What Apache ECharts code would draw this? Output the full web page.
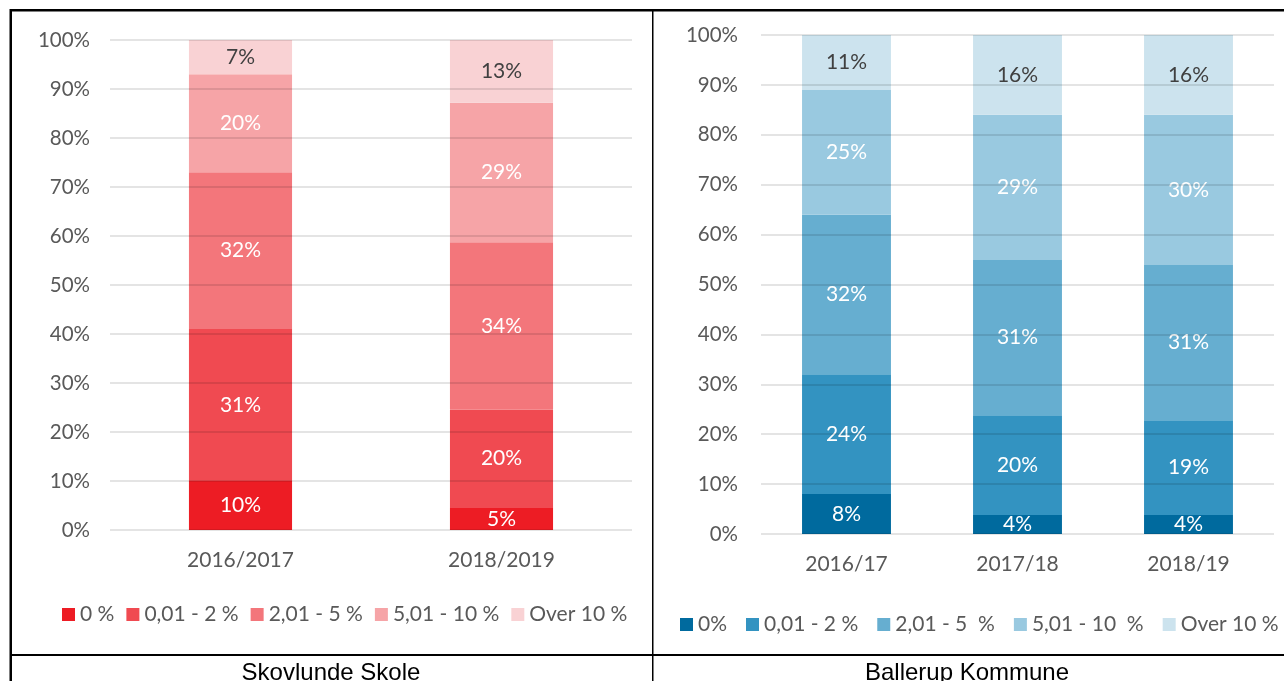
<!DOCTYPE html>
<html>
<head>
<meta charset="utf-8">
<script src="https://cdn.jsdelivr.net/npm/echarts@6/dist/echarts.min.js"></script>
<style>
html,body{margin:0;padding:0;background:#fff;}
#wrap{position:relative;width:1284px;height:681px;overflow:hidden;}
#left{position:absolute;left:0;top:0;width:652px;height:681px;}
#right{position:absolute;left:652px;top:0;width:632px;height:681px;}
</style>
</head>
<body>
<div id="wrap"><div id="left"></div><div id="right"></div></div>
<script>
// ---- Data: left panel (Skovlunde Skole) ----
const leftTitle = 'Skovlunde Skole';
const leftCategories = ['2016/2017', '2018/2019'];
const leftNames = ['0 %', '0,01 - 2 %', '2,01 - 5 %', '5,01 - 10 %', 'Over 10 %'];
const leftS0 = [10, 4.5];
const leftS1 = [31, 20.1];
const leftS2 = [32, 34.1];
const leftS3 = [20, 28.5];
const leftS4 = [7, 12.8];
const leftColors = ['#ED1C24', '#F04A51', '#F3767B', '#F6A4A7', '#F9D2D4'];

// ---- Data: right panel (Ballerup Kommune) ----
const rightTitle = 'Ballerup Kommune';
const rightCategories = ['2016/17', '2017/18', '2018/19'];
const rightNames = ['0%', '0,01 - 2 %', '2,01 - 5  %', '5,01 - 10  %', 'Over 10 %'];
const rightS0 = [8, 3.8, 3.8];
const rightS1 = [24, 20, 19];
const rightS2 = [32, 31.1, 31.1];
const rightS3 = [25, 29.1, 30.1];
const rightS4 = [11, 16, 16];
const rightColors = ['#006A9E', '#3393C1', '#66AED0', '#99C9E0', '#CCE3EE'];

const yTicks = {min: 0, max: 100, interval: 10};
const FONT = 'Lato';

function makeSeries(names, data, colors, barWidth) {
  return names.map((n, i) => ({
    name: n,
    type: 'bar',
    stack: 'total',
    barWidth: barWidth,
    data: data[i],
    itemStyle: {color: colors[i]},
    label: {
      show: true,
      position: 'inside',
      formatter: p => Math.round(p.value) + '%',
      color: i === names.length - 1 ? '#404040' : '#ffffff',
      fontSize: 21,
      fontFamily: FONT
    }
  }));
}

function makeOption(cfg) {
  return {
    animation: false,
    textStyle: {fontFamily: FONT},
    grid: cfg.grid,
    legend: {
      data: cfg.names,
      left: cfg.legendLeft,
      top: cfg.legendTop,
      width: cfg.legendWidth,
      icon: 'rect',
      itemWidth: 13,
      itemHeight: 13,
      itemGap: cfg.legendGap,
      textStyle: {fontSize: 21, color: '#595959', fontFamily: FONT}
    },
    xAxis: {
      type: 'category',
      data: cfg.categories,
      axisLine: {show: false},
      axisTick: {show: false},
      axisLabel: {fontSize: 21, color: '#595959', fontFamily: FONT, margin: cfg.xMargin}
    },
    yAxis: {
      type: 'value',
      min: yTicks.min, max: yTicks.max, interval: yTicks.interval,
      z: 3,
      axisLine: {show: false},
      axisTick: {show: false},
      axisLabel: {fontSize: 20.5, color: '#595959', fontFamily: FONT, margin: cfg.yMargin, formatter: '{value}%'},
      splitLine: {lineStyle: {color: 'rgba(0,0,0,0.14)', width: 1.5}}
    },
    series: makeSeries(cfg.names, cfg.data, cfg.colors, cfg.barWidth),
    graphic: cfg.graphic
  };
}

const leftChart = echarts.init(document.getElementById('left'), null, {renderer: 'canvas'});
leftChart.setOption(makeOption({
  grid: {left: 110, right: 20, top: 40, bottom: 151},
  names: leftNames,
  categories: leftCategories,
  data: [leftS0, leftS1, leftS2, leftS3, leftS4],
  colors: leftColors,
  barWidth: '39.5%',
  legendLeft: 57, legendTop: 599, legendGap: 12, legendWidth: 590,
  xMargin: 20, yMargin: 20,
  graphic: [
    {type: 'rect', shape: {x: 10, y: 9, width: 642, height: 2.5}, style: {fill: '#000'}},
    {type: 'rect', shape: {x: 9.5, y: 9, width: 2.5, height: 672}, style: {fill: '#000'}},
    {type: 'rect', shape: {x: 10, y: 654, width: 642, height: 2}, style: {fill: '#000'}},
    {type: 'text', x: 331, y: 673, style: {text: leftTitle, textAlign: 'center', textVerticalAlign: 'middle', fill: '#000', font: '24px "Liberation Sans", Arial, sans-serif'}}
  ]
}));

const rightChart = echarts.init(document.getElementById('right'), null, {renderer: 'canvas'});
rightChart.setOption(makeOption({
  grid: {left: 109, right: 10, top: 35, bottom: 147},
  names: rightNames,
  categories: rightCategories,
  data: [rightS0, rightS1, rightS2, rightS3, rightS4],
  colors: rightColors,
  barWidth: '52%',
  legendLeft: 23, legendTop: 609, legendGap: 19, legendWidth: 640,
  xMargin: 20, yMargin: 23,
  graphic: [
    {type: 'rect', shape: {x: 0, y: 9, width: 632, height: 2.5}, style: {fill: '#000'}},
    {type: 'rect', shape: {x: 0, y: 9, width: 1.5, height: 672}, style: {fill: '#000'}},
    {type: 'rect', shape: {x: 0, y: 654, width: 632, height: 2}, style: {fill: '#000'}},
    {type: 'text', x: 315, y: 673, style: {text: rightTitle, textAlign: 'center', textVerticalAlign: 'middle', fill: '#000', font: '24px "Liberation Sans", Arial, sans-serif'}}
  ]
}));
</script>
</body>
</html>
